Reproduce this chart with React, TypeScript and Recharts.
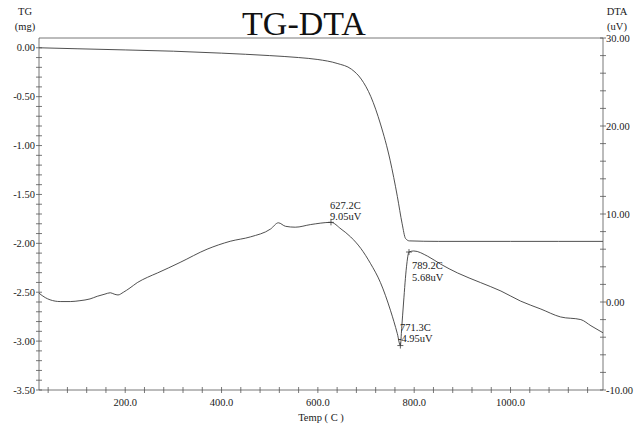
import React from "react";
import { ComposedChart, Line, XAxis, YAxis, ReferenceLine, ReferenceDot } from "recharts";

// TG curve (mg) vs temperature (C)
const TEMP_TG = [21, 100, 200, 300, 400, 500, 560, 600, 640, 670, 690, 710, 730, 750, 765, 775, 782, 790, 850, 1000, 1100, 1192];
const TG = [0.0, -0.01, -0.022, -0.035, -0.055, -0.08, -0.1, -0.12, -0.16, -0.22, -0.32, -0.5, -0.78, -1.15, -1.52, -1.8, -1.95, -1.975, -1.98, -1.98, -1.98, -1.98];

// DTA curve (uV) vs temperature (C)
const TEMP_DTA = [21, 34, 44, 65, 86, 106, 127, 142, 158, 169, 177, 185, 196, 210, 225, 246, 267, 314, 370, 418, 460, 502, 518, 533, 553, 585, 627.2, 648, 668, 689, 709, 730, 751, 765, 771.3, 774, 778, 784, 789.2, 799, 828, 855, 890, 938, 980, 1021, 1063, 1104, 1146, 1167, 1192];
const DTA = [1.0, 0.5, 0.25, 0.05, 0.05, 0.15, 0.35, 0.65, 0.9, 1.05, 0.9, 0.8, 1.1, 1.6, 2.2, 2.8, 3.3, 4.5, 6.0, 6.9, 7.4, 8.3, 9.0, 8.6, 8.5, 8.8, 9.05, 8.3, 7.4, 6.1, 4.4, 2.2, -1.0, -3.6, -4.95, -3.0, 0, 4, 5.68, 5.8, 5.2, 4.3, 3.3, 2.2, 1.25, 0.1, -0.8, -1.7, -2.0, -2.7, -3.5];

// peak annotations
const PEAK_T = [627.2, 771.3, 789.2];
const PEAK_UV = [9.05, -4.95, 5.68];

const X_MAJOR = [200, 400, 600, 800, 1000];
const TG_MAJOR = [0, -0.5, -1, -1.5, -2, -2.5, -3, -3.5];
const DTA_MAJOR = [30, 20, 10, 0, -10];

const steps = (from: number, to: number, step: number) => {
  const out: number[] = [];
  for (let i = 0; from + i * step <= to + 1e-9; i++) out.push(Math.round((from + i * step) * 1000) / 1000);
  return out;
};
const X_TICKS = steps(40, 1160, 40);
const TG_TICKS = steps(-3.5, 0, 0.1);
const DTA_TICKS = steps(-10, 30, 2);

const isIn = (v: number, list: number[]) => list.some((m) => Math.abs(m - v) < 1e-6);

const tgData = TEMP_TG.map((t, i) => ({ t, tg: TG[i] }));
const dtaData = TEMP_DTA.map((t, i) => ({ t, dta: DTA[i] }));

const FONT = "'Liberation Serif', 'Times New Roman', serif";
const INK = "#3c3c3c";
const AXIS = "#555";
const TEXT = "#1a1a1a";

const LeftTick = (props: any) => {
  const { x, y, payload } = props;
  const v = payload.value;
  return (
    <g>
      <line x1={x - 3} x2={x + 3} y1={y} y2={y} stroke={AXIS} strokeWidth={0.8} />
      {isIn(v, TG_MAJOR) && (
        <text x={x - 4} y={y} dy={3.5} textAnchor="end" fontSize={10.5} fontFamily={FONT} fill={TEXT}>
          {v.toFixed(2)}
        </text>
      )}
    </g>
  );
};

const RightTick = (props: any) => {
  const { x, y, payload } = props;
  const v = payload.value;
  return (
    <g>
      <line x1={x - 3} x2={x + 3} y1={y} y2={y} stroke={AXIS} strokeWidth={0.8} />
      {isIn(v, DTA_MAJOR) && (
        <text x={x + 3} y={y} dy={3.5} textAnchor="start" fontSize={10.5} fontFamily={FONT} fill={TEXT}>
          {v.toFixed(2)}
        </text>
      )}
    </g>
  );
};

const BottomTick = (props: any) => {
  const { x, y, payload } = props;
  const v = payload.value;
  return (
    <g>
      <line x1={x} x2={x} y1={y - 3} y2={y + 3} stroke={AXIS} strokeWidth={0.8} />
      {isIn(v, X_MAJOR) && (
        <text x={x} y={y + 16} textAnchor="middle" fontSize={10.5} fontFamily={FONT} fill={TEXT}>
          {v.toFixed(1)}
        </text>
      )}
    </g>
  );
};

const PeakMark = (props: any) => {
  const { cx, cy } = props;
  return (
    <g>
      <line x1={cx - 3} x2={cx + 3} y1={cy} y2={cy} stroke={INK} strokeWidth={0.8} />
      <line x1={cx} x2={cx} y1={cy - 3} y2={cy + 3} stroke={INK} strokeWidth={0.8} />
    </g>
  );
};

export default function App() {
  return (
    <div style={{ position: "absolute", left: 0, top: 0, width: 640, height: 425, background: "#fff" }}>
      <ComposedChart width={640} height={425} margin={{ top: 38, right: 0, bottom: 0, left: 0 }}>
        <XAxis
          dataKey="t"
          type="number"
          domain={[21, 1192]}
          allowDataOverflow
          ticks={X_TICKS}
          interval={0}
          tick={<BottomTick />}
          tickLine={false}
          tickSize={0}
          tickMargin={0}
          height={35}
          axisLine={{ stroke: AXIS, strokeWidth: 0.8 }}
        />
        <YAxis
          yAxisId="left"
          orientation="left"
          type="number"
          domain={[-3.5, 0.1]}
          allowDataOverflow
          ticks={TG_TICKS}
          interval={0}
          tick={<LeftTick />}
          tickLine={false}
          tickSize={0}
          tickMargin={0}
          width={39}
          axisLine={{ stroke: AXIS, strokeWidth: 0.8 }}
        />
        <YAxis
          yAxisId="right"
          orientation="right"
          type="number"
          domain={[-10, 30]}
          allowDataOverflow
          ticks={DTA_TICKS}
          interval={0}
          tick={<RightTick />}
          tickLine={false}
          tickSize={0}
          tickMargin={0}
          width={37}
          axisLine={{ stroke: AXIS, strokeWidth: 0.8 }}
        />
        <ReferenceLine yAxisId="left" y={0.1} stroke={AXIS} strokeWidth={0.8} />
        <Line
          yAxisId="left"
          data={tgData}
          dataKey="tg"
          type="monotone"
          stroke={INK}
          strokeWidth={0.9}
          dot={false}
          isAnimationActive={false}
        />
        <Line
          yAxisId="right"
          data={dtaData}
          dataKey="dta"
          type="monotone"
          stroke={INK}
          strokeWidth={0.9}
          dot={false}
          isAnimationActive={false}
        />
        {PEAK_T.map((t, i) => (
          <ReferenceDot key={t} yAxisId="right" x={t} y={PEAK_UV[i]} shape={PeakMark} />
        ))}
      </ComposedChart>
      <svg width={640} height={425} style={{ position: "absolute", left: 0, top: 0, pointerEvents: "none" }}>
        <text x={304} y={35} textAnchor="middle" fontSize={34} fontFamily={FONT} fill="#111">
          TG-DTA
        </text>
        <g fontFamily={FONT} fontSize={10.5} fill={TEXT} textAnchor="middle">
          <text x={25} y={15}>TG</text>
          <text x={25} y={30}>(mg)</text>
          <text x={617} y={15}>DTA</text>
          <text x={617} y={30}>(uV)</text>
          <text x={321} y={421}>Temp ( C )</text>
        </g>
        <g fontFamily={FONT} fontSize={10.5} fill={TEXT}>
          <text x={330} y={209}>{`${PEAK_T[0].toFixed(1)}C`}</text>
          <text x={330} y={220}>{`${PEAK_UV[0].toFixed(2)}uV`}</text>
          <text x={400} y={331}>{`${PEAK_T[1].toFixed(1)}C`}</text>
          <text x={398} y={342}>{`${PEAK_UV[1].toFixed(2)}uV`}</text>
          <text x={412} y={269}>{`${PEAK_T[2].toFixed(1)}C`}</text>
          <text x={412} y={281}>{`${PEAK_UV[2].toFixed(2)}uV`}</text>
        </g>
      </svg>
    </div>
  );
}
